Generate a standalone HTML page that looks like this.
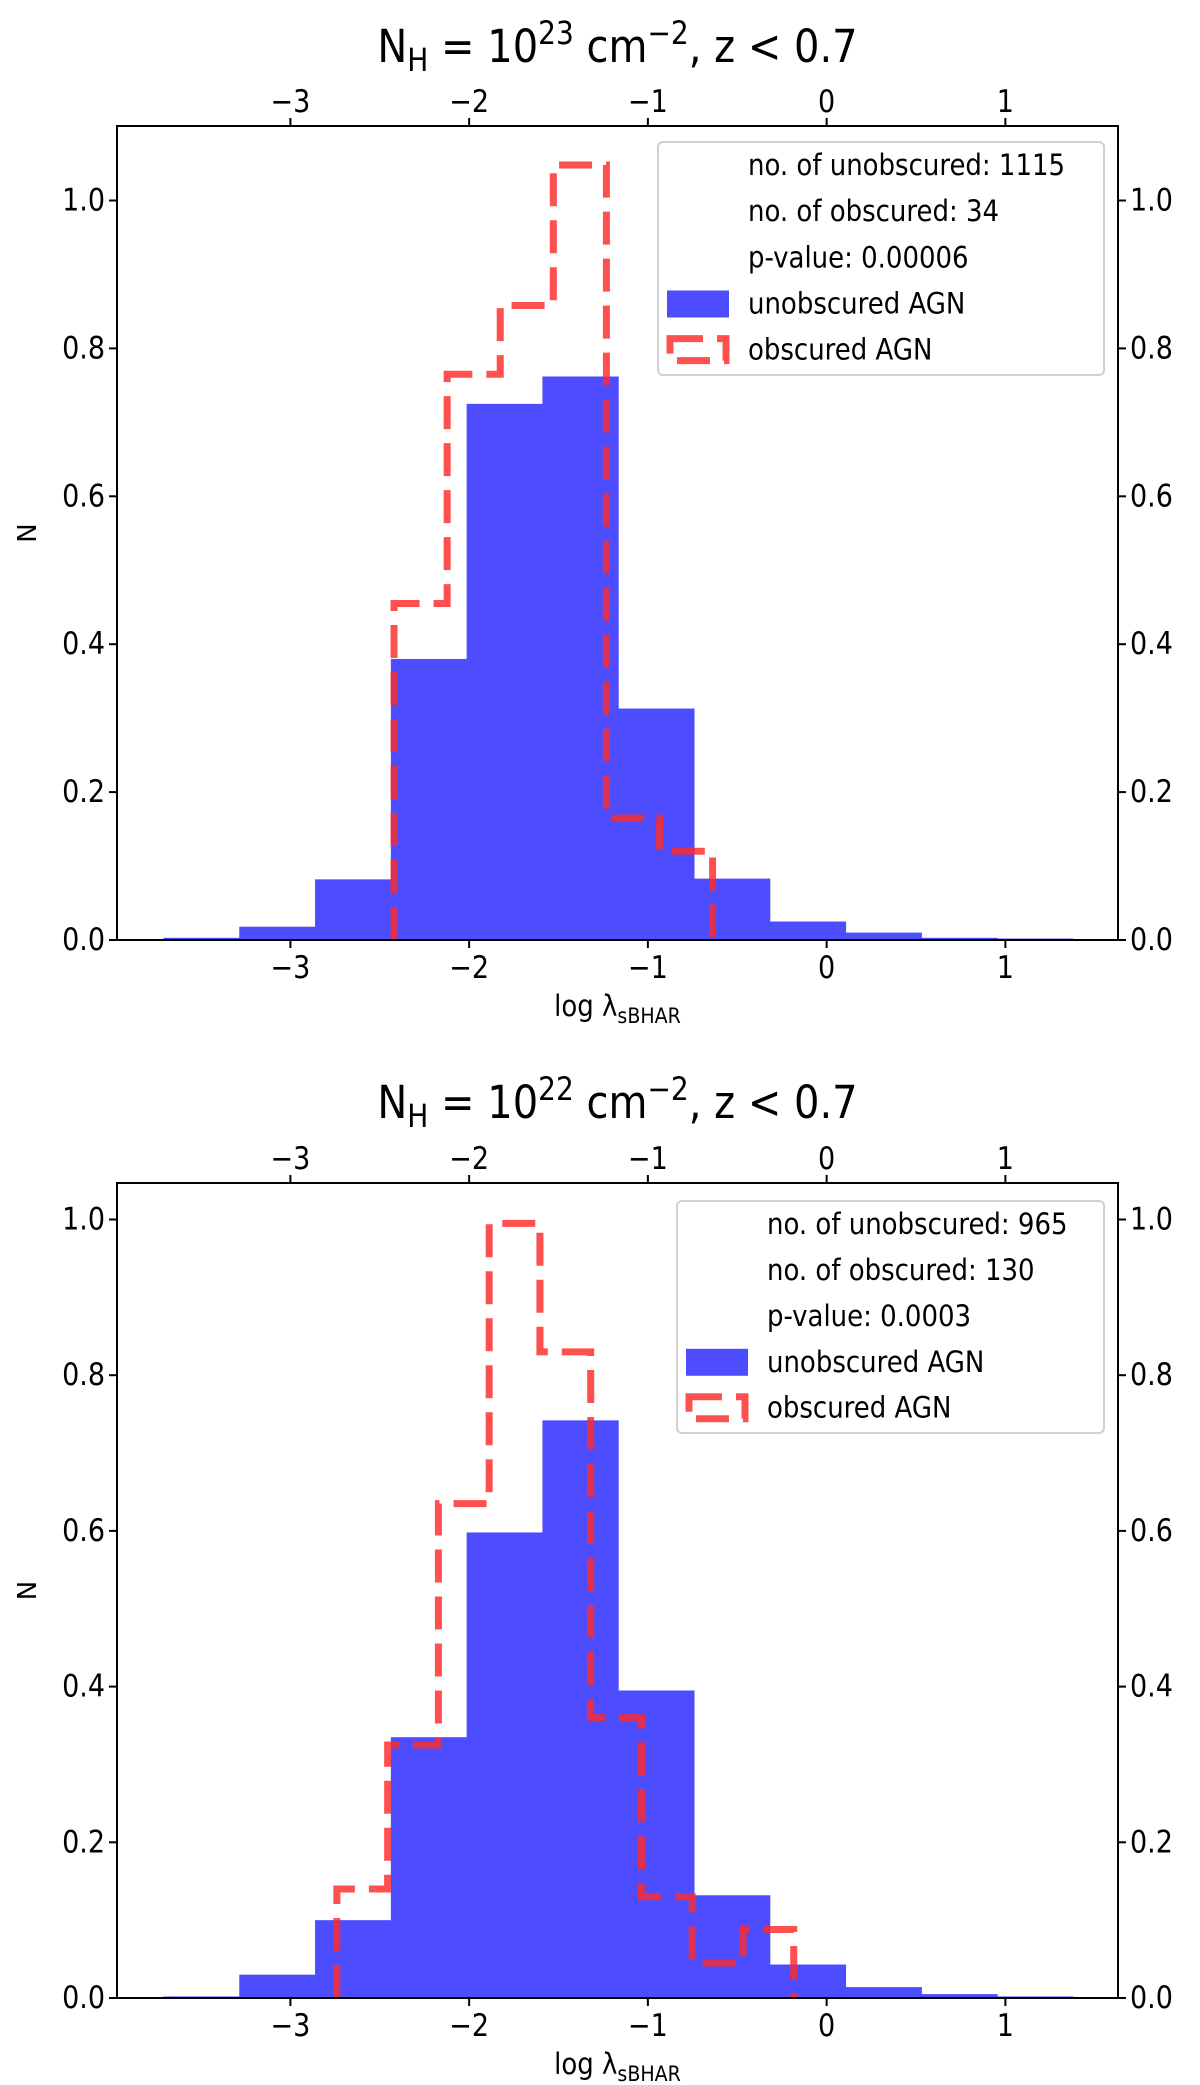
<!DOCTYPE html>
<html><head><meta charset="utf-8"><style>
html,body{margin:0;padding:0;background:#fff;}
svg{display:block;font-family:"DejaVu Sans","Liberation Sans",sans-serif;}
</style></head>
<body>
<svg id="fig" width="1200" height="2085" viewBox="0 0 1200 2085" xmlns="http://www.w3.org/2000/svg"></svg>
<script>
// ---- data ----
const unobsEdgeStart = -3.71, unobsBinWidth = 0.424;
const unobsTop = [0.003,0.018,0.082,0.38,0.725,0.762,0.313,0.083,0.025,0.010,0.003,0.002];
const obsTopStart = -2.42, obsTopWidth = 0.297;
const obsTop = [0.455,0.765,0.858,1.048,0.165,0.12];
const unobsBot = [0.002,0.030,0.100,0.335,0.598,0.742,0.395,0.132,0.043,0.014,0.005,0.002];
const obsBotStart = -2.74, obsBotWidth = 0.284;
const obsBot = [0.14,0.325,0.635,0.995,0.83,0.36,0.13,0.045,0.088];
const xTicks = [-3,-2,-1,0,1];
const yTicks = [0,0.2,0.4,0.6,0.8,1.0];
const legendTop = ["no. of unobscured: 1115","no. of obscured: 34","p-value: 0.00006"];
const legendBot = ["no. of unobscured: 965","no. of obscured: 130","p-value: 0.0003"];

const NS="http://www.w3.org/2000/svg";
const svg=document.getElementById('fig');
function mk(tag,attrs,parent){const e=document.createElementNS(NS,tag);for(const k in attrs)e.setAttribute(k,attrs[k]);(parent||svg).appendChild(e);return e;}
function txt(s,x,y,size,anchor,parent){const t=mk('text',{transform:`translate(${x},${y}) scale(1,1.14)`,'font-size':size,'text-anchor':anchor||'start',fill:'#000'},parent);t.textContent=s;return t;}
function fmtTick(v){return v<0?'\u2212'+Math.abs(v):String(v);}

function panel(cfg){
  const g=mk('g',{});
  
  
  const L=117,R=1118,T=cfg.top,B=cfg.bottom;
  const xmin=-3.97,xmax=1.63;
  const X=v=>L+(v-xmin)/(xmax-xmin)*(R-L);
  const Y=v=>B-v*cfg.unit;
  // blue bars
  cfg.unobs.forEach((h,i)=>{
    const x0=X(unobsEdgeStart+i*unobsBinWidth),x1=X(unobsEdgeStart+(i+1)*unobsBinWidth);
    const r=mk('rect',{x:x0,y:Y(h),width:x1-x0+0.5,height:B-Y(h),fill:'#4d4dff'},g);
    
    
  });
  // red step
  let d='';
  cfg.obs.forEach((h,i)=>{
    const x0=X(cfg.obsStart+i*cfg.obsW),x1=X(cfg.obsStart+(i+1)*cfg.obsW);
    d+=(i===0?`M${x0},${B}L${x0},${Y(h)}`:`L${x0},${Y(h)}`)+`L${x1},${Y(h)}`;
    if(i===cfg.obs.length-1)d+=`L${x1},${B}`;
  });
  const p=mk('path',{d:d,fill:'none',stroke:'#ff2a2a','stroke-opacity':0.82,'stroke-width':7,'stroke-dasharray':'33 14'},g);
  
  
  // frame
  mk('rect',{x:L,y:T,width:R-L,height:B-T,fill:'none',stroke:'#000','stroke-width':2},g);
  // x ticks
  xTicks.forEach(v=>{
    const x=X(v);
    mk('line',{x1:x,y1:B,x2:x,y2:B+8,stroke:'#000','stroke-width':2},g);
    mk('line',{x1:x,y1:T,x2:x,y2:T-8,stroke:'#000','stroke-width':2},g);
    const a=txt(fmtTick(v),x,B+38,27,'middle',g);
    
    
    const b=txt(fmtTick(v),x,T-14,27,'middle',g);
    
    
  });
  yTicks.forEach(v=>{
    const y=Y(v);
    mk('line',{x1:L,y1:y,x2:L-8,y2:y,stroke:'#000','stroke-width':2},g);
    mk('line',{x1:R,y1:y,x2:R+8,y2:y,stroke:'#000','stroke-width':2},g);
    const a=txt(v.toFixed(1),L-12,y+10,27,'end',g);
    
    
    const b=txt(v.toFixed(1),R+12,y+10,27,'start',g);
    
    
  });
  // title
  const t=mk('text',{transform:`translate(${(L+R)/2},${cfg.titleY}) scale(1,1.14)`,'font-size':40,'text-anchor':'middle'},g);
  t.innerHTML=`N<tspan font-size="28" dy="8">H</tspan><tspan dy="-8"> = 10</tspan><tspan font-size="28" dy="-16">${cfg.exp}</tspan><tspan dy="16"> cm</tspan><tspan font-size="28" dy="-16">\u22122</tspan><tspan dy="16">, z &lt; 0.7</tspan>`;
  
  
  // xlabel
  const xl=mk('text',{transform:`translate(${(L+R)/2},${B+76}) scale(1,1.14)`,'font-size':26,'text-anchor':'middle'},g);
  xl.innerHTML='log \u03bb<tspan font-size="19" dy="6">sBHAR</tspan>';
  
  
  const yl=mk('text',{transform:`translate(36,${(T+B)/2}) rotate(-90)`,'font-size':26,'text-anchor':'middle'},g);
  yl.textContent='N';
  
  
  // legend
  const lg=mk('g',{},g);
  
  
  mk('rect',{x:cfg.legX,y:cfg.legY,width:1104-cfg.legX,height:cfg.legH,rx:5,fill:'#fff','fill-opacity':0.85,stroke:'#d0d0d0','stroke-width':2},lg);
  const tx=cfg.legX+90, step=cfg.legH/5.05;
  cfg.legend.forEach((s,i)=>{
    const e=txt(s,tx,cfg.legY+step*(i+0.5)+10,26,'start',lg);
    
    
  });
  const y4=cfg.legY+step*3.5, y5=cfg.legY+step*4.5;
  mk('rect',{x:cfg.legX+9,y:y4-13,width:62,height:27,fill:'#4d4dff'},lg);
  const e4=txt('unobscured AGN',tx,y4+10,26,'start',lg);
  
  
  mk('rect',{x:cfg.legX+12,y:y5-11,width:56,height:22,fill:'none',stroke:'#ff2a2a','stroke-opacity':0.82,'stroke-width':7,'stroke-dasharray':'33 14'},lg);
  const e5=txt('obscured AGN',tx,y5+10,26,'start',lg);
  
  
}

panel({name:'panel-nh23',top:126,bottom:940,unit:739.5,unobs:unobsTop,obs:obsTop,obsStart:obsTopStart,obsW:obsTopWidth,exp:'23',titleY:62,legX:658,legY:142,legH:233,legend:legendTop});
panel({name:'panel-nh22',top:1183,bottom:1998,unit:778.5,unobs:unobsBot,obs:obsBot,obsStart:obsBotStart,obsW:obsBotWidth,exp:'22',titleY:1118,legX:677,legY:1201,legH:232,legend:legendBot});
</script>
</body></html>
